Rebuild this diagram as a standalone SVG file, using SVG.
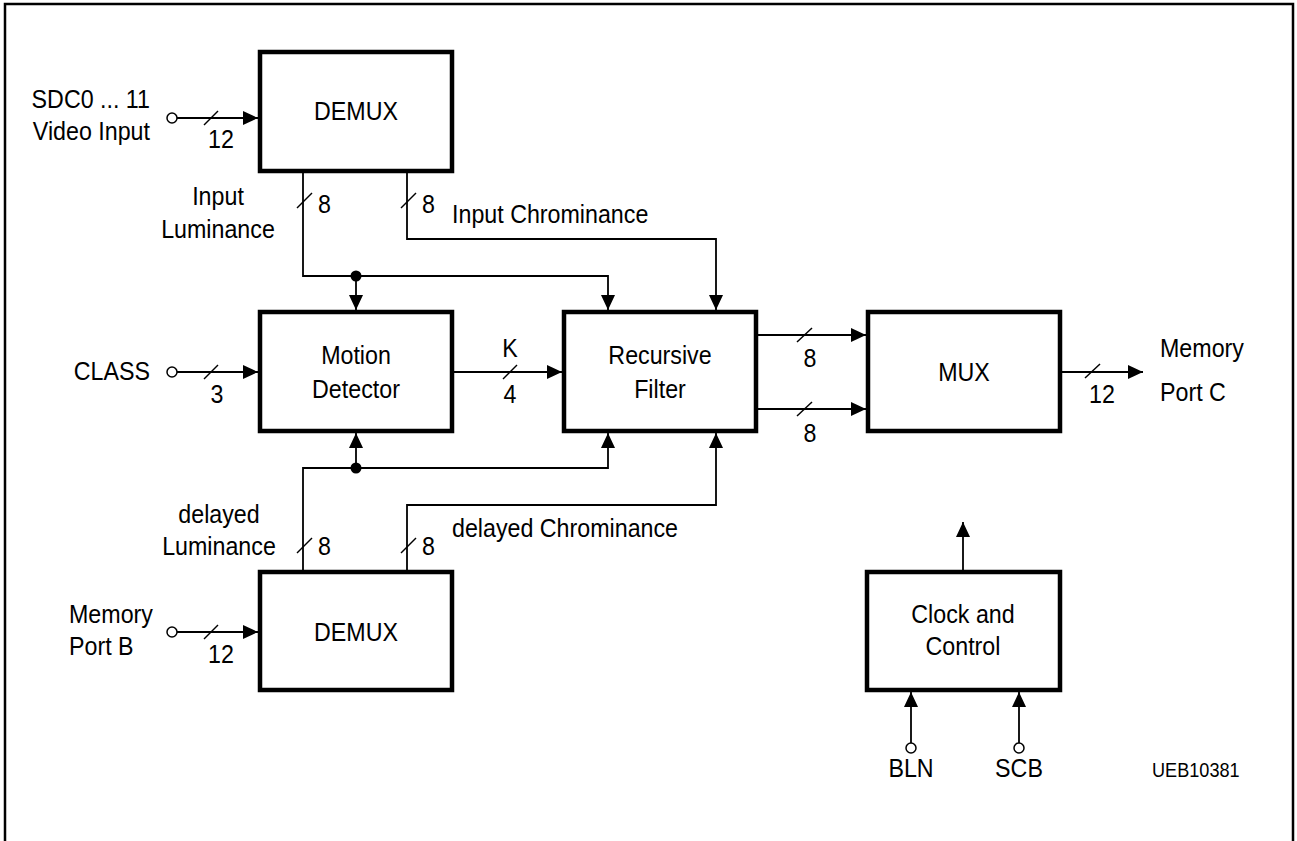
<svg xmlns="http://www.w3.org/2000/svg" width="1297" height="841" viewBox="0 0 1297 841">
<defs>
<marker id="arr" markerUnits="userSpaceOnUse" markerWidth="16" markerHeight="14" refX="15" refY="7" orient="auto">
<path d="M0,0 L15,7 L0,14 z" fill="#000"/>
</marker>
<style>
text{font-family:"Liberation Sans",Arial,sans-serif;font-size:25px;fill:#000}
.c{text-anchor:middle}
.e{text-anchor:end}
.box{fill:#fff;stroke:#000;stroke-width:4.5}
.w{fill:none;stroke:#000;stroke-width:1.8}
.a{marker-end:url(#arr)}
.s{stroke:#000;stroke-width:1.5}
.pin{fill:#fff;stroke:#000;stroke-width:1.5}
.dot{fill:#000}
.small{font-size:19.5px}
</style>
</defs>
<rect width="1297" height="841" fill="#fff"/>
<path d="M5,841 V4 H1293 V841" fill="none" stroke="#000" stroke-width="2.5"/>

<g id="demux-in">
<rect class="box" x="260" y="52" width="192" height="119"/>
<text class="c" transform="translate(356,120) scale(0.93,1)">DEMUX</text>
</g>
<g id="motion-detector">
<rect class="box" x="260" y="312" width="192" height="119"/>
<text class="c" transform="translate(356,364) scale(0.93,1)">Motion</text>
<text class="c" transform="translate(356,398) scale(0.93,1)">Detector</text>
</g>
<g id="recursive-filter">
<rect class="box" x="564" y="312" width="192" height="119"/>
<text class="c" transform="translate(660,364) scale(0.93,1)">Recursive</text>
<text class="c" transform="translate(660,398) scale(0.93,1)">Filter</text>
</g>
<g id="mux">
<rect class="box" x="868" y="312" width="192" height="119"/>
<text class="c" transform="translate(964,381) scale(0.93,1)">MUX</text>
</g>
<g id="demux-mem">
<rect class="box" x="260" y="572" width="192" height="118"/>
<text class="c" transform="translate(356,641) scale(0.93,1)">DEMUX</text>
</g>
<g id="clock-control">
<rect class="box" x="867" y="572" width="193" height="118"/>
<text class="c" transform="translate(963,623) scale(0.93,1)">Clock and</text>
<text class="c" transform="translate(963,655) scale(0.93,1)">Control</text>
</g>

<g id="connectors">
<path class="w a" d="M177,118 H258"/>
<circle class="pin" cx="172" cy="118" r="5"/>
<line class="s" x1="204" y1="125" x2="218" y2="111"/>
<path class="w a" d="M177,372 H258"/>
<circle class="pin" cx="172" cy="372" r="5"/>
<line class="s" x1="204" y1="379" x2="218" y2="365"/>
<path class="w a" d="M177,632 H258"/>
<circle class="pin" cx="172" cy="632" r="5"/>
<line class="s" x1="204" y1="639" x2="218" y2="625"/>

<path class="w a" d="M303,173 V276 H608 V310"/>
<path class="w a" d="M356,276 V310"/>
<circle class="dot" cx="356" cy="276" r="5.5"/>
<path class="w a" d="M407,173 V239 H716 V310"/>
<line class="s" x1="297" y1="208" x2="312" y2="193"/>
<line class="s" x1="401" y1="208" x2="416" y2="193"/>

<path class="w a" d="M303,570 V468 H608 V433"/>
<path class="w a" d="M356,468 V433"/>
<circle class="dot" cx="356" cy="468" r="5.5"/>
<path class="w a" d="M407,570 V505 H716 V433"/>
<line class="s" x1="297" y1="553" x2="312" y2="538"/>
<line class="s" x1="401" y1="553" x2="416" y2="538"/>

<path class="w a" d="M452,372 H562"/>
<line class="s" x1="503" y1="379" x2="517" y2="365"/>

<path class="w a" d="M758,335 H866"/>
<line class="s" x1="797" y1="342" x2="812" y2="328"/>
<path class="w a" d="M758,409 H866"/>
<line class="s" x1="797" y1="416" x2="812" y2="402"/>

<path class="w a" d="M1062,372 H1143"/>
<line class="s" x1="1085" y1="378" x2="1100" y2="364"/>

<path class="w a" d="M963,570 V522"/>
<path class="w a" d="M911,743 V692"/>
<circle class="pin" cx="911" cy="748" r="5"/>
<path class="w a" d="M1019,743 V692"/>
<circle class="pin" cx="1019" cy="748" r="5"/>
</g>

<g id="labels">
<text class="e" transform="translate(150,108) scale(0.93,1)">SDC0 ... 11</text>
<text class="e" transform="translate(150,140) scale(0.93,1)">Video Input</text>
<text class="c" transform="translate(221,148) scale(0.93,1)">12</text>
<text class="e" transform="translate(150,380) scale(0.93,1)">CLASS</text>
<text class="c" transform="translate(217,403) scale(0.93,1)">3</text>
<text transform="translate(69,623) scale(0.93,1)">Memory</text>
<text transform="translate(69,655) scale(0.93,1)">Port B</text>
<text class="c" transform="translate(221,663) scale(0.93,1)">12</text>
<text class="c" transform="translate(218,205) scale(0.93,1)">Input</text>
<text class="c" transform="translate(218,238) scale(0.93,1)">Luminance</text>
<text transform="translate(318,213) scale(0.93,1)">8</text>
<text transform="translate(422,213) scale(0.93,1)">8</text>
<text transform="translate(452,223) scale(0.93,1)">Input Chrominance</text>
<text class="c" transform="translate(219,523) scale(0.93,1)">delayed</text>
<text class="c" transform="translate(219,555) scale(0.93,1)">Luminance</text>
<text transform="translate(318,555) scale(0.93,1)">8</text>
<text transform="translate(422,555) scale(0.93,1)">8</text>
<text transform="translate(452,537) scale(0.93,1)">delayed Chrominance</text>
<text class="c" transform="translate(510,357) scale(0.93,1)">K</text>
<text class="c" transform="translate(510,403) scale(0.93,1)">4</text>
<text class="c" transform="translate(810,367) scale(0.93,1)">8</text>
<text class="c" transform="translate(810,442) scale(0.93,1)">8</text>
<text class="c" transform="translate(1102,403) scale(0.93,1)">12</text>
<text transform="translate(1160,357) scale(0.93,1)">Memory</text>
<text transform="translate(1160,401) scale(0.93,1)">Port C</text>
<text class="c" transform="translate(911,777) scale(0.93,1)">BLN</text>
<text class="c" transform="translate(1019,777) scale(0.93,1)">SCB</text>
<text class="small" transform="translate(1152,777) scale(0.93,1)">UEB10381</text>
</g>
</svg>
